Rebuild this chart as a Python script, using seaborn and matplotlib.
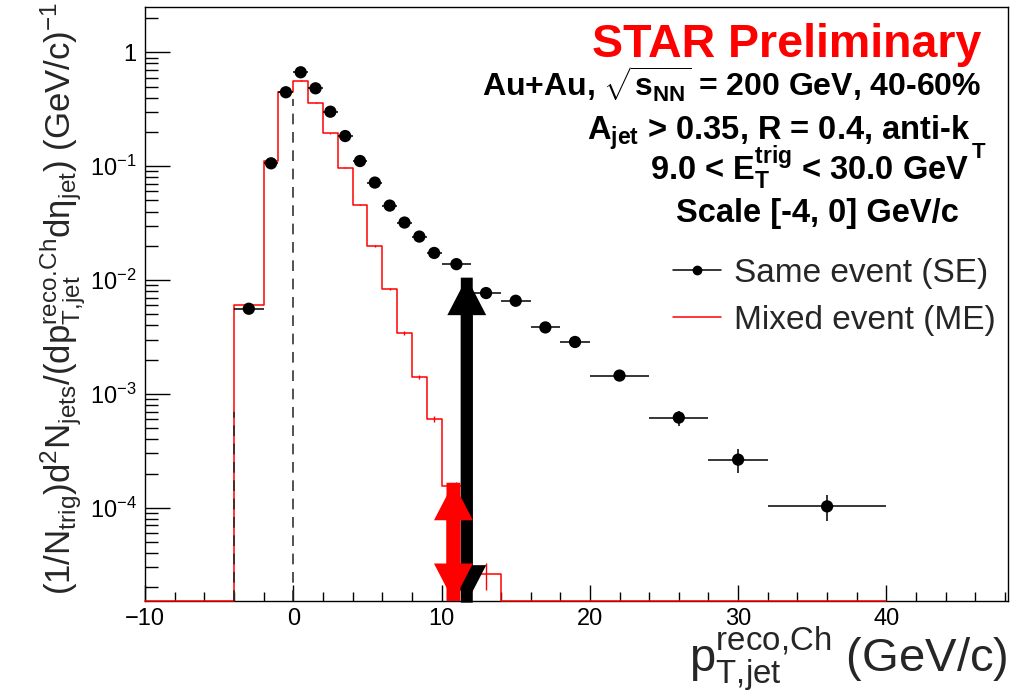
import numpy as np
import matplotlib
matplotlib.use("Agg")
import matplotlib.pyplot as plt
import matplotlib.ticker as mticker
from matplotlib.lines import Line2D
from matplotlib.patches import ArrowStyle
import seaborn as sns

# ---------------- data ----------------
# Same event (SE): bin centres, half widths, values, errors
se_x = [-3, -1.5, -0.5, 0.5, 1.5, 2.5, 3.5, 4.5, 5.5, 6.5, 7.5, 8.5, 9.5,
        11, 13, 15, 17, 19, 22, 26, 30, 36]
se_xerr = [1, 0.5, 0.5, 0.5, 0.5, 0.5, 0.5, 0.5, 0.5, 0.5, 0.5, 0.5, 0.5,
           1, 1, 1, 1, 1, 2, 2, 2, 4]
se_y = [5.6e-3, 0.106, 0.446, 0.668, 0.483, 0.301, 0.184, 0.111, 0.0718,
        0.0451, 0.032, 0.0241, 0.0173, 0.0138, 0.00769, 0.00658, 0.00384,
        0.00286, 0.00145, 6.2e-4, 2.65e-4, 1.03e-4]
se_yerr = [1.5e-4, 1e-3, 3e-3, 4e-3, 3e-3, 2e-3, 1.5e-3, 1e-3, 8e-4, 6e-4,
           5e-4, 4e-4, 3.5e-4, 2.5e-4, 2e-4, 1.8e-4, 1.3e-4, 1.1e-4, 6e-5,
           9.5e-5, 6.2e-5, 2.7e-5]

# Mixed event (ME): histogram bin edges, contents, errors
me_edges = [-10, -4, -2, -1, 0, 1, 2, 3, 4, 5, 6, 7, 8, 9, 10, 12, 14, 16,
            18, 20, 24, 28, 32, 40]
me_vals = [0, 6.0e-3, 0.112, 0.446, 0.564, 0.361, 0.195, 0.0972, 0.0458,
           0.0199, 0.00834, 0.00343, 0.00142, 6.0e-4, 1.54e-4, 2.6e-5,
           0, 0, 0, 0, 0, 0, 0]
me_err = [0, 1e-4, 1e-3, 2e-3, 2.5e-3, 2e-3, 1.5e-3, 1e-3, 6e-4, 3.5e-4,
          2e-4, 1.2e-4, 6e-5, 3.6e-5, 1.6e-5, 7e-6, 0, 0, 0, 0, 0, 0, 0]

# scale-range markers (dashed lines) and arrows
scale_x = [-4, 0]
scale_tops = [6.9e-4, 0.39]
arrow_x = [11.7, 10.8]
arrow_top = [1.05e-2, 1.66e-4]
arrow_bottom = [1.47e-5, 1.52e-5]
arrow_colors = ["black", "red"]

x_major = [-10, 0, 10, 20, 30, 40]
y_major = [1e-4, 1e-3, 1e-2, 1e-1, 1]
y_labels = [r"$10^{-4}$", r"$10^{-3}$", r"$10^{-2}$", r"$10^{-1}$", "1"]

# ---------------- style ----------------
sns.set_theme(style="ticks")
plt.rcParams["font.family"] = ["Liberation Sans", "DejaVu Sans"]
plt.rcParams["mathtext.fontset"] = "custom"
plt.rcParams["mathtext.rm"] = "Liberation Sans"
plt.rcParams["mathtext.it"] = "Liberation Sans:italic"
plt.rcParams["mathtext.bf"] = "Liberation Sans:bold"
plt.rcParams["mathtext.default"] = "regular"
plt.rcParams["axes.unicode_minus"] = True

W, H = 1030, 697
fig = plt.figure(figsize=(W / 100, H / 100), dpi=100)
ax = fig.add_axes([145 / W, 1 - 601 / H, (1008 - 145) / W, (601 - 7) / H])
ax.set_yscale("log")
YMIN, YMAX = 1.52e-5, 2.5
ax.set_xlim(-10, 48.2)
ax.set_ylim(YMIN, YMAX)

for s in ax.spines.values():
    s.set_linewidth(1.0)
    s.set_color("black")

# ME histogram (zero bins drawn on the axis floor, as ROOT does)
me_plot = np.where(np.array(me_vals) > 0, me_vals, YMIN)
sns.lineplot(x=me_edges, y=np.append(me_plot, me_plot[-1]), drawstyle="steps-post",
             estimator=None, errorbar=None, sort=False, color="red", lw=1.1,
             ax=ax, clip_on=False, zorder=3)
me_c = 0.5 * (np.array(me_edges[:-1]) + np.array(me_edges[1:]))
me_v = np.array(me_vals)
mask = me_v > 0
ax.errorbar(me_c[mask], me_v[mask], yerr=np.array(me_err)[mask], fmt="none",
            ecolor="red", elinewidth=1.0, zorder=3)

# dashed scale-range lines
for xv, top in zip(scale_x, scale_tops):
    ax.plot([xv, xv], [YMIN, top], ls=(0, (7, 5)), color="#222222", lw=1.1, zorder=4,
            clip_on=False)

# SE points
ax.errorbar(se_x, se_y, xerr=se_xerr, yerr=se_yerr, fmt="none", ecolor="black",
            elinewidth=1.1, zorder=5)
sns.scatterplot(x=se_x, y=se_y, color="black", s=78, edgecolor="none", ax=ax,
                zorder=6, legend=False)

# double arrows (two overlapping single-headed arrows, full length each)
shafts = [8.6, 10.0]
for xv, top, bot, col, sw in zip(arrow_x, arrow_top, arrow_bottom, arrow_colors, shafts):
    style = ArrowStyle.Simple(head_length=27, head_width=28, tail_width=sw)
    for tip, tail in ((top, bot), (bot, top)):
        ax.annotate("", xy=(xv, tip), xytext=(xv, tail), xycoords="data",
                    annotation_clip=False,
                    arrowprops=dict(arrowstyle=style, mutation_scale=1, fc=col,
                                    ec="none", lw=0, shrinkA=0, shrinkB=0),
                    zorder=7)

# ticks
ax.set_xticks(x_major)
ax.xaxis.set_minor_locator(mticker.MultipleLocator(2))
ax.set_yticks(y_major)
ax.set_yticklabels(y_labels)
ax.yaxis.set_minor_locator(mticker.LogLocator(base=10, subs=np.arange(2, 10)))
ax.yaxis.set_minor_formatter(mticker.NullFormatter())
ax.tick_params(axis="both", which="both", direction="in", top=False, right=False,
               colors="black", width=1.0)
ax.tick_params(axis="y", which="major", length=18, labelsize=17, pad=6)
ax.tick_params(axis="y", which="minor", length=9.4)
ax.tick_params(axis="x", which="major", length=11.5, labelsize=17, pad=5)
ax.tick_params(axis="x", which="minor", length=6.5)

# axis labels
ax.set_ylabel(r"(1/N$_{trig}$)d$^{2}$N$_{jets}$/(dp$_{T{,}jet}^{reco.\!Ch}$d$\eta_{jet}$) (GeV/c)$^{-1}$",
              fontsize=25)
ax.yaxis.set_label_coords(-0.066, 0.51)
ax.set_xlabel(r"p$_{T{,}jet}^{reco{,}Ch}$ (GeV/c)", fontsize=34)
ax.xaxis.set_label_coords(1.0, -0.04)
ax.xaxis.label.set_horizontalalignment("right")

# legend
handles = [Line2D([0], [0], color="black", lw=1.1, marker="o", ms=6),
           Line2D([0], [0], color="red", lw=1.1)]
fig.legend(handles, ["Same event (SE)", "Mixed event (ME)"], loc="upper left",
           bbox_to_anchor=(673 / W, 1 - 258 / H), frameon=False, fontsize=24,
           handlelength=1.45, handletextpad=0.38, labelspacing=0.48, borderpad=0,
           borderaxespad=0)

# text block
def fx(x):
    return x / W

def fy(y):
    return 1 - y / H

fig.text(fx(981), fy(57), "STAR Preliminary", color="red", fontsize=33.5,
         fontweight="bold", ha="right", va="baseline")
lines = [
    (981, 97, r"Au+Au, $\sqrt{s_{NN}}$ = 200 GeV, 40-60%", 23),
    (970, 140, r"A$_{jet}$ > 0.35, R = 0.4, anti-k", 23.5),
    (969, 180, r"9.0 < E$_{T}^{trig}$ < 30.0 GeV", 23.5),
    (959, 222, r"Scale [-4, 0] GeV/c", 23.5),
]
for x, y, t, fs in lines:
    fig.text(fx(x), fy(y), t, fontsize=fs, fontweight="bold", ha="right",
             va="baseline", color="black")
# subscript T of anti-k (sits low, as in the original)
fig.text(fx(985), fy(158), "T", fontsize=16, fontweight="bold", ha="right",
         va="baseline", color="black")

fig.savefig("out.png", dpi=100)
